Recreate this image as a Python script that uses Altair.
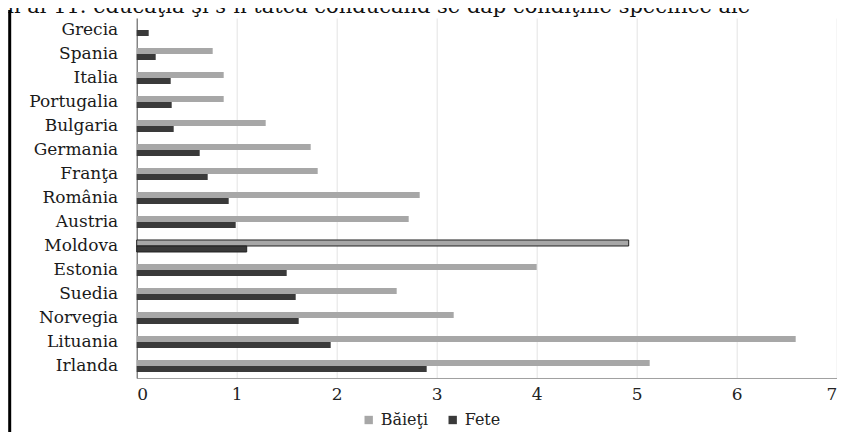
import altair as alt
import pandas as pd

countries = ["Grecia", "Spania", "Italia", "Portugalia", "Bulgaria", "Germania",
             "Franţa", "România", "Austria", "Moldova", "Estonia", "Suedia",
             "Norvegia", "Lituania", "Irlanda"]
baieti = [0.0, 0.76, 0.87, 0.87, 1.29, 1.74, 1.81, 2.83, 2.72, 4.92, 4.00, 2.60, 3.17, 6.59, 5.13]
fete = [0.12, 0.19, 0.34, 0.35, 0.37, 0.63, 0.71, 0.92, 0.99, 1.10, 1.50, 1.59, 1.62, 1.94, 2.90]
series = ["Băieţi", "Fete"]
colors = ["#a7a7a7", "#3a3a3a"]
x_ticks = [0, 1, 2, 3, 4, 5, 6, 7]
highlight = "Moldova"
header = "m al 11. educaţia şi s-n tatea conducând se dap  condiţiile specifice ale"

FONT = "DejaVu Serif"

rows = []
for c, b, f in zip(countries, baieti, fete):
    rows.append({"country": c, "series": series[0], "value": b})
    rows.append({"country": c, "series": series[1], "value": f})
df = pd.DataFrame(rows)

bars = alt.Chart(df).mark_bar().encode(
    x=alt.X("value:Q", scale=alt.Scale(domain=[0, 7], nice=False),
            axis=alt.Axis(values=x_ticks, title=None, grid=True, gridColor="#e4e4e4",
                          ticks=False, domainColor="#a0a0a0", labelFont=FONT,
                          labelFontSize=17, labelPadding=9, labelColor="#222222",
                          format="d")),
    y=alt.Y("country:N", sort=countries,
            scale=alt.Scale(paddingInner=0.5, paddingOuter=0.25),
            axis=alt.Axis(title=None, ticks=False, grid=False, labelFont=FONT,
                          labelFontSize=17, labelPadding=19, domainColor="#555555",
                          labelColor="#1a1a1a")),
    yOffset=alt.YOffset("series:N", sort=series,
                        scale=alt.Scale(paddingInner=0, paddingOuter=0)),
    color=alt.Color("series:N", sort=series,
                    scale=alt.Scale(domain=series, range=colors),
                    legend=alt.Legend(title=None, orient="none", legendX=224, legendY=394,
                                      direction="horizontal", symbolType="square",
                                      symbolSize=70, labelFont=FONT, labelFontSize=16,
                                      labelColor="#222222", columnPadding=16,
                                      symbolStrokeWidth=0)),
    stroke=alt.condition(alt.datum.country == highlight, alt.value("#222222"),
                         alt.value("transparent")),
    strokeWidth=alt.value(1),
)

head = alt.Chart(pd.DataFrame({"t": [header]})).mark_text(
    font=FONT, fontSize=21, align="left", baseline="alphabetic",
    color="#111111").encode(text="t:N", x=alt.value(-136), y=alt.value(-5))

border = alt.Chart(pd.DataFrame({"a": [0]})).mark_rule(
    color="#000000", strokeWidth=3).encode(
    x=alt.value(-127), y=alt.value(-8), y2=alt.value(420))

chart = alt.layer(bars, head, border).properties(
    width=700, height=360,
    autosize=alt.AutoSizeParams(type="none"),
    padding={"left": 128.7, "top": 10, "right": 0, "bottom": 54},
).configure_view(stroke=None)

chart.save("out.html", embed_options={"renderer": "svg", "actions": False})
